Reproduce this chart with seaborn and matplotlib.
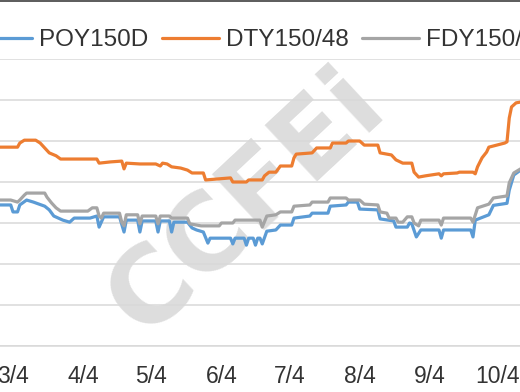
import numpy as np
import pandas as pd
import matplotlib
matplotlib.use("Agg")
import matplotlib.pyplot as plt
import matplotlib.dates as mdates
from matplotlib.lines import Line2D
import seaborn as sns

# ---------------- data ----------------
series_names = ["POY150D", "DTY150/48", "FDY150/50"]
series_colors = ["#5B9BD5", "#ED7D31", "#A5A5A5"]

poy_dates = ["02-26", "03-03", "03-04", "03-06", "03-07", "03-10", "03-13", "03-18", "03-20",
             "03-22", "03-26", "03-29", "03-31", "04-07", "04-10", "04-11", "04-13", "04-20",
             "04-22", "04-23", "04-28", "04-29", "04-30", "05-06", "05-07", "05-08", "05-12",
             "05-13", "05-14", "05-20", "05-22", "05-24", "05-27", "05-29", "05-30", "06-08",
             "06-09", "06-10", "06-14", "06-15", "06-16", "06-18", "06-19", "06-20", "06-21",
             "06-22", "06-24", "06-28", "06-30", "07-05", "07-06", "07-13", "07-14", "07-21",
             "07-22", "07-29", "07-30", "08-03", "08-04", "08-12", "08-13", "08-19", "08-20",
             "08-25", "08-26", "08-27", "08-29", "08-31", "09-08", "09-09", "09-10", "09-22",
             "09-23", "09-24", "09-30", "10-02", "10-08", "10-09", "10-11", "10-14"]
poy_values = [7440, 7440, 7270, 7270, 7440, 7560, 7510, 7410, 7320,
              7170, 7070, 7020, 7120, 7120, 7170, 6900, 7150, 7150,
              6780, 7070, 7070, 6780, 7050, 7050, 6780, 7050, 7050,
              6780, 7020, 7020, 6880, 6830, 6780, 6510, 6630, 6630,
              6490, 6630, 6630, 6460, 6630, 6630, 6460, 6630, 6630,
              6490, 6800, 6830, 6950, 6950, 7120, 7170, 7240, 7240,
              7410, 7440, 7510, 7510, 7340, 7320, 7100, 7050, 6900,
              6900, 7000, 6980, 6660, 6830, 6830, 6630, 6830, 6830,
              6660, 7070, 7200, 7430, 7480, 7800, 8170, 8290]

dty_dates = ["02-26", "03-06", "03-07", "03-09", "03-14", "03-16", "03-18", "03-20", "03-23",
             "03-25", "04-10", "04-11", "04-16", "04-21", "04-22", "04-23", "04-29", "05-06",
             "05-08", "05-09", "05-11", "05-13", "05-17", "05-20", "05-22", "05-27", "05-28",
             "06-08", "06-09", "06-15", "06-16", "06-22", "06-23", "06-25", "06-28", "06-30",
             "07-05", "07-06", "07-07", "07-14", "07-16", "07-22", "07-23", "07-29", "07-30",
             "08-04", "08-06", "08-12", "08-13", "08-18", "08-20", "08-23", "08-27", "08-28",
             "08-30", "09-02", "09-08", "09-09", "09-10", "09-16", "09-17", "09-23", "09-24",
             "09-25", "09-27", "09-29", "09-30", "10-07", "10-08", "10-09", "10-10", "10-12",
             "10-14"]
dty_values = [8850, 8850, 8950, 9020, 9020, 8950, 8830, 8710, 8640,
              8560, 8560, 8460, 8490, 8510, 8320, 8460, 8440, 8440,
              8390, 8460, 8440, 8370, 8340, 8290, 8220, 8220, 8050,
              8100, 8000, 8000, 8050, 8050, 8150, 8240, 8240, 8390,
              8390, 8590, 8680, 8710, 8830, 8830, 8950, 8950, 9000,
              9000, 8900, 8900, 8710, 8660, 8540, 8460, 8460, 8240,
              8120, 8150, 8200, 8150, 8200, 8220, 8240, 8240, 8200,
              8370, 8590, 8730, 8850, 8950, 8980, 9560, 9830, 9930,
              9950]

fdy_dates = ["02-26", "03-03", "03-06", "03-07", "03-09", "03-10", "03-18", "03-19", "03-21",
             "03-23", "03-25", "04-06", "04-08", "04-10", "04-11", "04-12", "04-13", "04-20",
             "04-21", "04-22", "04-23", "04-28", "04-29", "04-30", "05-06", "05-07", "05-08",
             "05-12", "05-13", "05-20", "05-21", "05-24", "05-26", "06-03", "06-04", "06-09",
             "06-10", "06-21", "06-22", "06-24", "06-28", "06-30", "07-05", "07-06", "07-13",
             "07-14", "07-21", "07-22", "07-29", "07-30", "08-04", "08-06", "08-12", "08-13",
             "08-16", "08-17", "08-20", "08-21", "08-23", "08-25", "08-27", "08-28", "08-30",
             "08-31", "09-08", "09-09", "09-10", "09-22", "09-23", "09-25", "09-30", "10-02",
             "10-08", "10-09", "10-11", "10-14"]
fdy_values = [7560, 7560, 7510, 7560, 7680, 7730, 7730, 7630, 7490,
              7370, 7290, 7290, 7370, 7370, 7170, 7120, 7240, 7240,
              7020, 6930, 7200, 7200, 6980, 7170, 7170, 6980, 7170,
              7170, 7120, 7120, 6980, 6950, 6930, 6930, 7000, 7000,
              7070, 7070, 6900, 7170, 7200, 7270, 7270, 7410, 7440,
              7510, 7510, 7610, 7610, 7560, 7560, 7460, 7440, 7270,
              7240, 7120, 7120, 7020, 7020, 7150, 7150, 7000, 6930,
              7070, 7070, 6950, 7120, 7120, 7020, 7370, 7460, 7610,
              7660, 7980, 8220, 8320]

tick_dates = ["2021-03-04", "2021-04-04", "2021-05-04", "2021-06-04",
              "2021-07-04", "2021-08-04", "2021-09-04", "2021-10-04"]
tick_labels = ["3/4", "4/4", "5/4", "6/4", "7/4", "8/4", "9/4", "10/4"]
y_grid = [4000, 5000, 6000, 7000, 8000, 9000, 10000, 11000]
watermark = "CCFEi"

# ---------------- build long table ----------------
frames = []
for name, d, v in [(series_names[0], poy_dates, poy_values),
                   (series_names[1], dty_dates, dty_values),
                   (series_names[2], fdy_dates, fdy_values)]:
    frames.append(pd.DataFrame({"date": pd.to_datetime(["2021-" + s for s in d]),
                                "price": v, "series": name}))
df = pd.concat(frames, ignore_index=True)

# ---------------- style ----------------
sns.set_style("white")
plt.rcParams["font.family"] = ["Liberation Sans", "DejaVu Sans"]
text_color = "#333333"
grid_color = "#D9D9D9"

W, H = 520, 392
fig = plt.figure(figsize=(W / 100, H / 100), dpi=100)
ax = fig.add_axes([0, 1 - 346 / H, 1, (346 - 59) / H])

palette = dict(zip(series_names, series_colors))
sns.lineplot(data=df, x="date", y="price", hue="series", palette=palette,
             hue_order=series_names, linewidth=2.3, legend=False, ax=ax,
             estimator=None, sort=True, zorder=3)

# axis ranges: left edge of figure a few days before 3/4
x0 = mdates.date2num(pd.Timestamp("2021-03-04")) - 13 / 2.266
x1 = mdates.date2num(pd.Timestamp("2021-03-04")) + (520 - 13) / 2.266
ax.set_xlim(x0, x1)
ax.set_ylim(y_grid[0], y_grid[-1])

ax.set_yticks(y_grid)
ax.yaxis.grid(True, color=grid_color, linewidth=1.1)
ax.set_axisbelow(True)
ax.tick_params(axis="y", left=False, labelleft=False)

ax.set_xticks(mdates.date2num(pd.to_datetime(tick_dates)))
ax.set_xticklabels(tick_labels)
ax.tick_params(axis="x", direction="out", length=6.5, width=1.1, color=grid_color,
               labelsize=16.5, labelcolor=text_color, pad=7)
ax.set_xlabel("")
ax.set_ylabel("")

for s in ["left", "right", "top"]:
    ax.spines[s].set_visible(False)
ax.spines["bottom"].set_color(grid_color)
ax.spines["bottom"].set_linewidth(1.1)

# watermark
ax.text(247 / W, 1 - 203 / H, watermark, transform=fig.transFigure, rotation=43,
        ha="center", va="center", fontsize=76, fontweight="bold",
        color="#DDDDDD", zorder=0.3, family="DejaVu Sans")

# legend
handles = [Line2D([0], [0], color=c, lw=2.3) for c in series_colors]
ax.legend(handles, series_names, loc="center left",
          bbox_to_anchor=(-25 / W, 1 - 40 / H), bbox_transform=fig.transFigure,
          ncol=3, frameon=False, fontsize=17.5, handlelength=2.35, handletextpad=0.28,
          columnspacing=0.56, borderpad=0, borderaxespad=0, labelcolor=text_color)

# outer chart border (top edge visible)
fig.add_artist(Line2D([0, 1], [1 - 0.5 / H, 1 - 0.5 / H], transform=fig.transFigure,
                      color="#404040", lw=1.2))

fig.savefig("out.png", dpi=100)
